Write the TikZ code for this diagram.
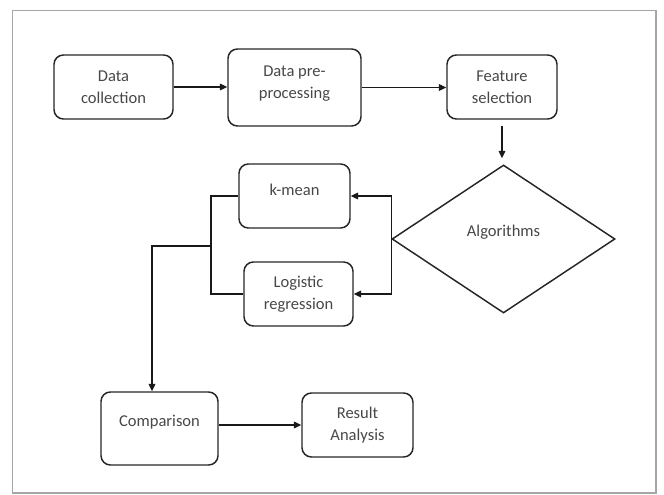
\documentclass[tikz,border=0pt]{standalone}
\usepackage{fontspec}
\setmainfont{Carlito}
\usetikzlibrary{shapes.geometric,arrows.meta}
\begin{document}
\begin{tikzpicture}[x=0.75pt,y=-0.75pt,
  box/.style={draw=black!85,line width=1.1pt,rounded corners=7pt,align=center,
    text=black!72,font=\fontsize{12.4}{16.5}\selectfont,inner sep=0pt},
  dia/.style={draw=black!85,line width=1.1pt,diamond,inner sep=0pt,
    text=black!72,font=\fontsize{12.4}{16.5}\selectfont},
  arr/.style={draw=black!90,line width=0.9pt,-{Triangle[length=5.5pt,width=5pt]}},
  con/.style={draw=black!90,line width=0.9pt}]
\useasboundingbox (0,0) rectangle (664,495);
\draw[black!35,line width=1.2pt] (12.5,10.5) rectangle (656,493);

\node[box,minimum width=89.25pt,minimum height=48pt] (dc) at (113.5,87) {Data\\collection};
\node[box,minimum width=99.75pt,minimum height=57.75pt,text depth=8.5pt] (dp) at (294.5,87.5) {Data pre-\\processing};
\node[box,minimum width=82.5pt,minimum height=48pt] (fs) at (502,87) {Feature\\selection};
\node[dia,minimum width=167.25pt,minimum height=111pt,text depth=12pt] (al) at (503.5,239) {Algorithms};
\node[box,minimum width=83.25pt,minimum height=48pt,text depth=9pt] (km) at (294.5,196) {k-mean};
\node[box,minimum width=81.75pt,minimum height=48pt] (lr) at (298.5,294) {Logistic\\regression};
\node[box,minimum width=87.75pt,minimum height=54.75pt,text depth=11.5pt] (cmp) at (159.5,428.5) {Comparison};
\node[box,minimum width=83.25pt,minimum height=48pt] (ra) at (357.5,425) {Result\\Analysis};

\coordinate (j) at (211,246);
\coordinate (c) at (152,246);

\draw[arr] (dc.east) -- (dc.east -| dp.west);
\draw[arr] (dp.east) -- (dp.east -| fs.west);
\draw[arr,shorten <=4.5pt,shorten >=4.5pt] (fs.south) -- (fs.south |- al.north);
\draw[arr] (al.west) |- (km.east);
\draw[arr] (al.west) |- (lr.east);
\draw[con] (km.west) -| (j) |- (lr.west);
\draw[arr] (j) -- (c) -- (c |- cmp.north);
\draw[arr] (ra.west -| cmp.east) -- (ra.west);
\end{tikzpicture}
\end{document}
